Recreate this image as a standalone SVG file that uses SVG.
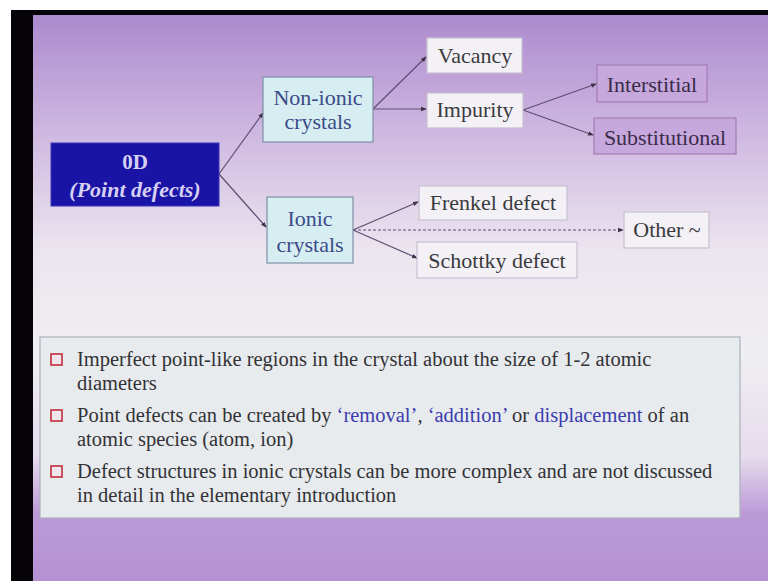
<svg xmlns="http://www.w3.org/2000/svg" width="768" height="581" viewBox="0 0 768 581">
  <defs>
    <linearGradient id="slideBg" x1="0" y1="15" x2="0" y2="581" gradientUnits="userSpaceOnUse">
      <stop offset="0" stop-color="#ac8ace"/>
      <stop offset="0.2" stop-color="#cdb6e0"/>
      <stop offset="0.42" stop-color="#ece6ef"/>
      <stop offset="0.6" stop-color="#efeef1"/>
      <stop offset="0.78" stop-color="#e6dcec"/>
      <stop offset="0.88" stop-color="#bc9ad8"/>
      <stop offset="1" stop-color="#b591d4"/>
    </linearGradient>
    <marker id="tip" viewBox="0 0 6 6" refX="5" refY="3" markerWidth="6" markerHeight="6" markerUnits="userSpaceOnUse" orient="auto">
      <path d="M0,0.8 L6,3 L0,5.2 Z" fill="#3e3048"/>
    </marker>
    <style>
      .serif { font-family: "Liberation Serif", "Times New Roman", serif; }
      .conn { fill: none; stroke: #5e4e72; stroke-width: 1.2; marker-end: url(#tip); }
      .dash { stroke-dasharray: 3 2; }
      .cat { fill: #d6eef2; stroke: #7f8fa6; stroke-width: 1.2; }
      .cat-t { font-size: 22px; fill: #3c4a88; text-anchor: middle; }
      .leaf { fill: #f3f1f5; stroke: #c9c0d3; stroke-width: 1.2; }
      .leaf-t { font-size: 22px; fill: #3a3a3e; text-anchor: middle; }
      .sub { fill: #c6a8dc; stroke: #a67cb4; stroke-width: 1.2; }
      .sub-t { font-size: 22px; fill: #3a2c4a; text-anchor: middle; }
      .body { font-size: 20.5px; fill: #333236; }
      .hl { fill: #3c3cae; }
      .bullet { fill: #f1e6ea; stroke: #c0303e; stroke-width: 1.6; }
    </style>
  </defs>

  <!-- screen frame -->
  <rect x="0" y="0" width="768" height="581" fill="#ffffff"/>
  <rect x="11" y="10" width="757" height="571" fill="#050308"/>
  <rect x="33" y="15" width="735" height="566" fill="url(#slideBg)"/>

  <!-- connectors -->
  <g id="connectors">
    <path class="conn" d="M219,174 L263,113"/>
    <path class="conn" d="M219,174 L266,227"/>
    <path class="conn" d="M373,109 L426,57"/>
    <path class="conn" d="M373,109 L426,109"/>
    <path class="conn" d="M523,110 L596,84"/>
    <path class="conn" d="M523,110 L593,135"/>
    <path class="conn" d="M353,230 L418,202"/>
    <path class="conn" d="M353,230 L417,258"/>
    <path class="conn dash" d="M353,230 L623,230"/>
  </g>

  <!-- root node -->
  <g id="node-0d">
    <rect x="51" y="143" width="168" height="63" fill="#1a14a6" stroke="#3a36b8" stroke-width="1"/>
    <text class="serif" x="135" y="169" font-size="21" font-weight="bold" fill="#d6d0f2" text-anchor="middle">0D</text>
    <text class="serif" x="135" y="197" font-size="22" font-weight="bold" font-style="italic" fill="#d6d0f2" text-anchor="middle">(Point defects)</text>
  </g>

  <g id="node-nonionic">
    <rect class="cat" x="263" y="77" width="110" height="65"/>
    <text class="serif cat-t" x="318" y="105">Non-ionic</text>
    <text class="serif cat-t" x="318" y="129">crystals</text>
  </g>

  <g id="node-ionic">
    <rect class="cat" x="267" y="197" width="86" height="66"/>
    <text class="serif cat-t" x="310" y="226">Ionic</text>
    <text class="serif cat-t" x="310" y="252">crystals</text>
  </g>

  <g id="node-vacancy">
    <rect class="leaf" x="427" y="38" width="95" height="35"/>
    <text class="serif leaf-t" x="475" y="63">Vacancy</text>
  </g>

  <g id="node-impurity">
    <rect class="leaf" x="427" y="93" width="96" height="35"/>
    <text class="serif leaf-t" x="475" y="117">Impurity</text>
  </g>

  <g id="node-interstitial">
    <rect class="sub" x="597" y="65" width="110" height="37"/>
    <text class="serif sub-t" x="652" y="92">Interstitial</text>
  </g>

  <g id="node-substitutional">
    <rect class="sub" x="594" y="118" width="142" height="36" fill="#d4bee4"/>
    <text class="serif sub-t" x="665" y="145">Substitutional</text>
  </g>

  <g id="node-frenkel">
    <rect class="leaf" x="419" y="186" width="148" height="34"/>
    <text class="serif leaf-t" x="493" y="210">Frenkel defect</text>
  </g>

  <g id="node-schottky">
    <rect class="leaf" x="417" y="242" width="160" height="36"/>
    <text class="serif leaf-t" x="497" y="268">Schottky defect</text>
  </g>

  <g id="node-other">
    <rect class="leaf" x="624" y="212" width="85" height="36"/>
    <text class="serif leaf-t" x="667" y="237">Other ~</text>
  </g>

  <!-- notes panel -->
  <g id="notes">
    <rect x="40" y="337" width="700" height="181" fill="#e7ebee" stroke="#aab0bc" stroke-width="1.2"/>
    <rect class="bullet" x="51" y="354" width="11" height="11"/>
    <rect class="bullet" x="51" y="410" width="11" height="11"/>
    <rect class="bullet" x="51" y="466" width="11" height="11"/>
    <text class="serif body" x="77" y="366">Imperfect point-like regions in the crystal about the size of 1-2 atomic</text>
    <text class="serif body" x="77" y="390">diameters</text>
    <text class="serif body" x="77" y="422">Point defects can be created by <tspan class="hl">‘removal’</tspan>, <tspan class="hl">‘addition’</tspan> or <tspan class="hl">displacement</tspan> of an</text>
    <text class="serif body" x="77" y="446">atomic species (atom, ion)</text>
    <text class="serif body" x="77" y="478">Defect structures in ionic crystals can be more complex and are not discussed</text>
    <text class="serif body" x="77" y="502">in detail in the elementary introduction</text>
  </g>
</svg>
